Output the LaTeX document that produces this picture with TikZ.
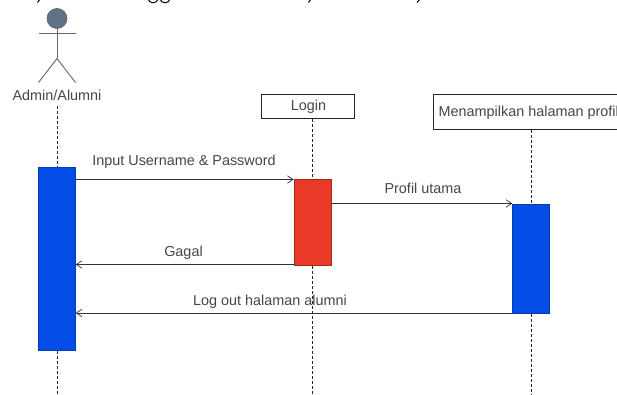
\documentclass[tikz,border=0pt]{standalone}
\usepackage{fontspec}
\setmainfont{Liberation Sans}
\usetikzlibrary{arrows.meta}
\definecolor{txtc}{RGB}{70,70,70}
\definecolor{actc}{RGB}{95,112,135}
\definecolor{blueb}{RGB}{3,76,230}
\definecolor{redb}{RGB}{232,58,38}
\tikzset{
  x=1pt,y=-1pt,
  lbl/.style={font=\fontsize{14.4pt}{16pt}\selectfont,text=txtc,inner sep=0pt},
  head/.style={draw=black!85,line width=.8pt,fill=white,inner sep=0pt},
  bar/.style={line width=.5pt,minimum width=37pt,inner sep=0pt,anchor=north},
  life/.style={densely dashed,line width=.8pt,black!85},
  msg/.style={line width=.8pt,black!80,-{Straight Barb[length=5.5pt,width=7.5pt,line width=.7pt]}},
  stick/.style={line width=.9pt,draw=black!60},
  frag/.style={line width=1pt,black}
}
\begin{document}
\begin{tikzpicture}
\useasboundingbox (0,0) rectangle (617,395);
\clip (0,0) rectangle (617,395);
% strokes cut off at the top edge
\draw[frag] (40,-1) -- (37.5,2.5);
\draw[frag] (148,-1) .. controls (149,4) and (157,4) .. (158,-1);
\draw[frag] (160,-1) .. controls (161,4) and (169,4) .. (170,-1);
\draw[frag] (311,-1) -- (308.5,2.5);
\draw[frag] (420,-1) -- (417,2.5);
% actor
\node[circle,minimum size=20pt,inner sep=0pt,fill=actc,draw=black!60,line width=.7pt] (head) at (57,18.5) {};
\coordinate (crotch) at (57,58.5);
\coordinate (armL) at (38.5,33.7);
\coordinate (armR) at (75.5,33.7);
\coordinate (footL) at (38.5,82.5);
\coordinate (footR) at (75.5,82.5);
\draw[stick] (head.south) -- (crotch);
\draw[stick] (armL) -- (armR);
\draw[stick] (footL) -- (crotch) -- (footR);
\node[lbl] (actor) at (57,95) {Admin/Alumni};
\coordinate (s1) at (57,106.5);
% heads
\node[head,minimum width=93pt,minimum height=24.5pt] (login) at (308.3,106.5) {};
\node[lbl] at (308.5,107) {Login};
\node[head,anchor=west,minimum width=230pt,minimum height=35.5pt] (prof) at (432.7,112) {};
\node[lbl,anchor=west] (proftxt) at (438.5,113) {Menampilkan halaman profil};
% activation bars
\node[bar,fill=blueb,draw=blueb!80!black,minimum height=183pt] (a1) at (57,167) {};
\node[bar,fill=redb,draw=redb!70!black,minimum height=86pt] (a2) at (312.3,179) {};
\node[bar,fill=blueb,draw=blueb!80!black,minimum height=109.5pt] (a3) at (531,203.5) {};
% labels
\node[lbl] at (184,161.5) {Input Username \& Password};
\node[lbl] at (423,188) {Profil utama};
\node[lbl] at (183.5,252.5) {Gagal};
\node[lbl] at (270,301.5) {Log out halaman alumni};
% lifelines
\coordinate (e1) at (57,395);
\coordinate (e2) at (312.3,395);
\coordinate (e3) at (531,395);
\draw[life] (s1) -- (a1.north);
\draw[life] (a1.south) -- (e1);
\draw[life] (login.south -| a2.north) -- (a2.north);
\draw[life] (a2.south) -- (e2);
\draw[life] (prof.south -| a3.north) -- (a3.north);
\draw[life] (a3.south) -- (e3);
% messages
\coordinate (m1a) at (a1.east |- 0,179.5);
\coordinate (m1b) at (a2.west |- 0,179.5);
\draw[msg] (m1a) -- (m1b);
\coordinate (m2a) at (a2.east |- 0,203.5);
\coordinate (m2b) at (a3.west |- 0,203.5);
\draw[msg] (m2a) -- (m2b);
\coordinate (m3a) at (a2.west |- 0,264.5);
\coordinate (m3b) at (a1.east |- 0,264.5);
\draw[msg] (m3a) -- (m3b);
\coordinate (m4a) at (a3.west |- 0,313);
\coordinate (m4b) at (a1.east |- 0,313);
\draw[msg] (m4a) -- (m4b);
\end{tikzpicture}
\end{document}
